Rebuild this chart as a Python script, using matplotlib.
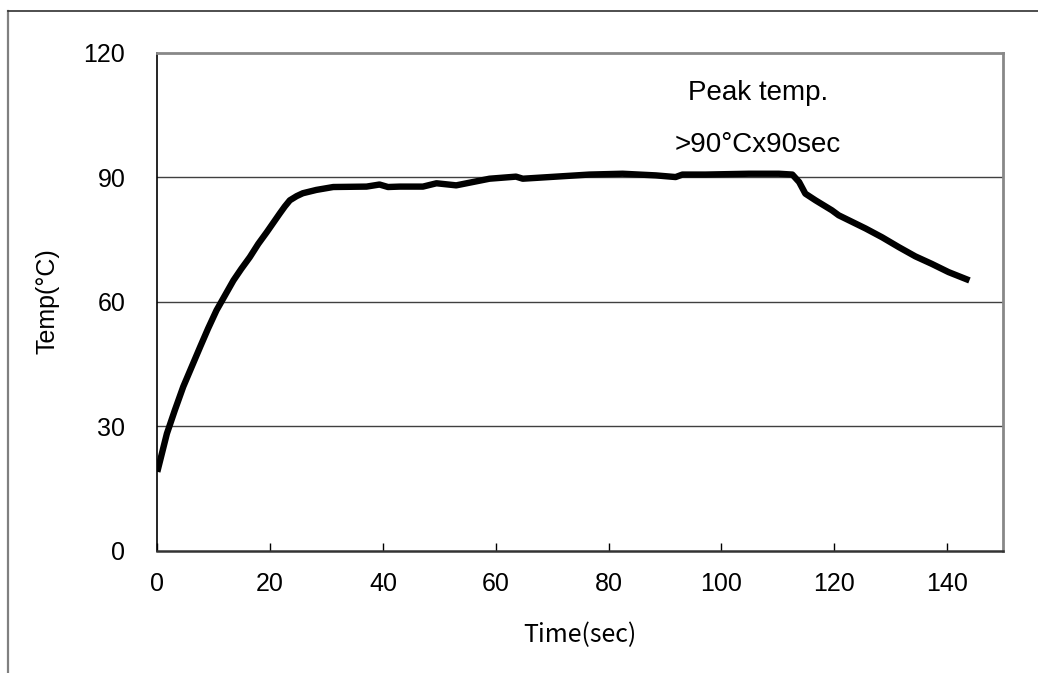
import matplotlib
matplotlib.use("Agg")
import matplotlib.pyplot as plt
from matplotlib.lines import Line2D

time_sec = [0, 1.7, 3.1, 4.6, 6.1, 7.6, 9.0, 10.5, 12.0, 13.5, 14.9, 16.4, 17.9, 19.4,
            21.7, 22.6, 23.5, 24.7, 25.8, 28.2, 31.2,
            37.1, 39.4, 40.9, 43, 47.1, 49.5, 53, 58.9, 63.6, 64.8, 70.7, 76.6,
            82.5, 85.4, 88.4, 91.9, 93.1, 97.2, 104.9, 110.2, 112.6, 113.8, 114.9,
            116.7, 119.6, 120.8, 125.6, 128.5, 131.5, 134.4, 137.3, 140.3, 144]
temp_c = [19.0, 28.2, 33.8, 39.5, 44.3, 49.1, 53.5, 57.9, 61.5, 65.1, 67.9, 70.7, 73.9, 76.7,
          81.2, 82.9, 84.4, 85.4, 86.1, 86.9, 87.6,
          87.7, 88.2, 87.6, 87.7, 87.7, 88.5, 88.0, 89.6, 90.1, 89.6, 90.1, 90.6,
          90.8, 90.6, 90.4, 90.0, 90.6, 90.6, 90.8, 90.8, 90.6, 88.8, 86.0,
          84.4, 82.0, 80.8, 77.6, 75.5, 73.1, 70.9, 69.1, 67.1, 65.1]
x_ticks = [0, 20, 40, 60, 80, 100, 120, 140]
y_ticks = [0, 30, 60, 90, 120]
x_label = "Time(sec)"
y_label = "Temp(°C)"
note1 = "Peak temp."
note2 = ">90°Cx90sec"

W, H = 1038, 673
fig = plt.figure(figsize=(W / 100, H / 100), dpi=100)
fig.patch.set_facecolor("white")

left, right, bottom, top = 157.3, 1003.3, 550.7, 52.5
ax = fig.add_axes([left / W, 1 - bottom / H, (right - left) / W, (bottom - top) / H])
ax.set_xlim(0, 150)
ax.set_ylim(0, 120)

for y in y_ticks[1:-1]:
    ax.axhline(y, color="#404040", lw=1.0, zorder=1)

ax.plot(time_sec, temp_c, color="black", lw=4.6, solid_capstyle="butt",
        solid_joinstyle="round", zorder=3)

ax.spines["top"].set_color("#888888")
ax.spines["top"].set_linewidth(2.0)
ax.spines["right"].set_color("#888888")
ax.spines["right"].set_linewidth(2.0)
ax.spines["left"].set_color("black")
ax.spines["left"].set_linewidth(1.2)
ax.spines["bottom"].set_color("#333333")
ax.spines["bottom"].set_linewidth(1.8)

ax.set_xticks(x_ticks)
ax.set_yticks(y_ticks)
tick_font = ["Liberation Sans", "DejaVu Sans"]
ax.tick_params(axis="x", direction="in", length=6, width=1, color="black", pad=15,
               labelsize=18)
ax.tick_params(axis="y", direction="in", length=0, width=1, color="black", pad=23,
               labelsize=18)
for lab in ax.get_xticklabels() + ax.get_yticklabels():
    lab.set_family(tick_font)

fig.text(580 / W, 1 - 635 / H, x_label, ha="center", va="center", fontsize=18,
         family=["Noto Sans CJK JP", "DejaVu Sans"])
fig.text(48 / W, 1 - 301 / H, y_label, ha="center", va="center", fontsize=18,
         rotation=90, family=["Liberation Sans", "DejaVu Sans"])

ax.text(106.5, 110.3, note1, ha="center", va="center", fontsize=20,
        family=["Liberation Sans", "DejaVu Sans"])
ax.text(106.5, 97.6, note2, ha="center", va="center", fontsize=20,
        family=["Liberation Sans", "DejaVu Sans"])

# outer chart border (left and top edges visible)
fig.add_artist(Line2D([8 / W, 8 / W], [0, 1 - 10.7 / H], transform=fig.transFigure,
                      color="#808080", lw=1.6))
fig.add_artist(Line2D([8 / W, 1], [1 - 10.7 / H, 1 - 10.7 / H], transform=fig.transFigure,
                      color="#303030", lw=1.2))

fig.savefig("out.png", dpi=100, facecolor="white")
